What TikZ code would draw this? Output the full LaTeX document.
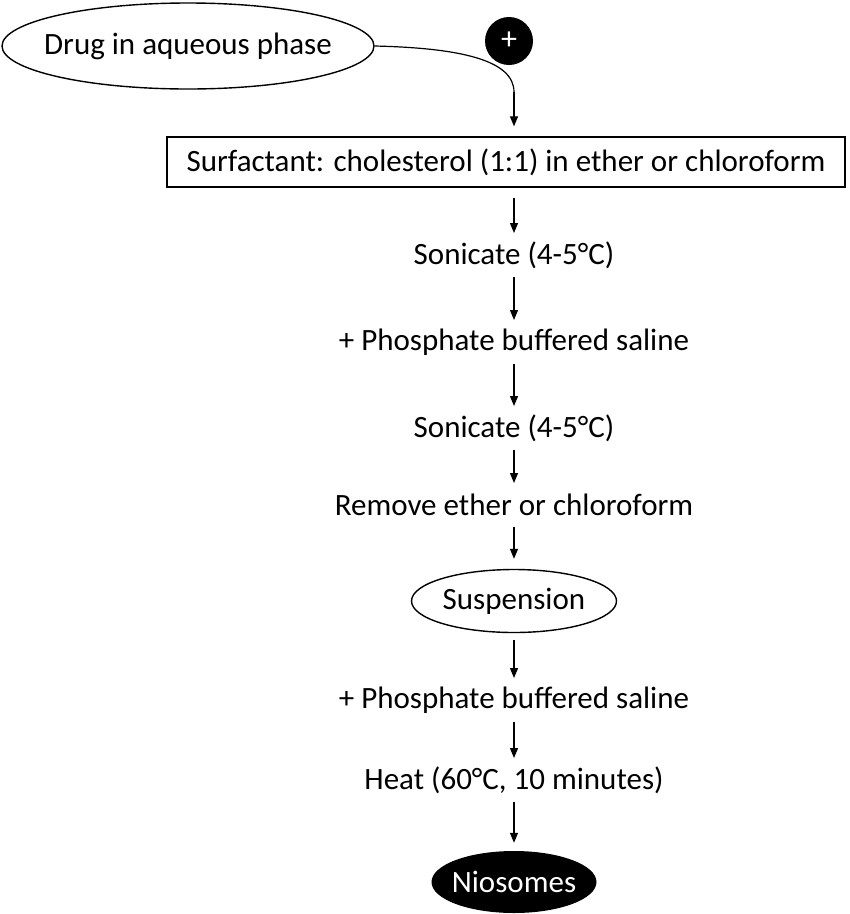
\documentclass[tikz,border=0pt]{standalone}
\usepackage{fontspec}
\setmainfont{Carlito}
\usetikzlibrary{shapes.geometric,arrows.meta}
\begin{document}
\begin{tikzpicture}[x=1pt,y=-1pt,
  txt/.style={font=\fontsize{31}{34}\selectfont, inner sep=0pt, outer sep=0pt, minimum height=44pt, text=black},
  oval/.style={ellipse, draw=black, line width=1.4pt, inner sep=0pt, font=\fontsize{31}{34}\selectfont},
  arr/.style={line width=1.2pt, -{Triangle[length=10pt,width=8pt]}}]
\useasboundingbox (0,0) rectangle (850,914);
\node[oval, minimum width=372pt, minimum height=86pt] (drug) at (188,46) {\makebox[0pt]{Drug in aqueous phase}};
\node[circle, fill=black, minimum size=48pt, inner sep=0pt, text=white, font=\fontsize{32}{34}\selectfont] (plus) at (509,41) {+};
\node[draw=black, line width=1.3pt, minimum width=678pt, minimum height=50pt, inner sep=0pt, font=\fontsize{31}{34}\selectfont] (box) at (506,162) {Surfactant: cholesterol (1:1) in ether or chloroform};
\coordinate (bend) at (514,92);
\node[txt] (s1) at (514,255) {Sonicate (4-5°C)};
\node[txt] (p1) at (514,342) {+ Phosphate buffered saline};
\node[txt] (s2) at (514,428) {Sonicate (4-5°C)};
\node[txt] (rm) at (514,505) {Remove ether or chloroform};
\node[oval, minimum width=205pt, minimum height=63pt] (susp) at (514,601) {\makebox[0pt]{Suspension}};
\node[txt] (p2) at (514,700) {+ Phosphate buffered saline};
\node[txt] (heat) at (514,780) {Heat (60°C, 10 minutes)};
\node[ellipse, fill=black, minimum width=165pt, minimum height=62pt, inner sep=0pt, text=white, font=\fontsize{31}{34}\selectfont] (nio) at (514,882) {\makebox[0pt]{Niosomes}};
\draw[line width=1.2pt] (drug.east) .. controls (460,48) and (514,60) .. (bend);
\draw[arr] (bend) -- ([yshift=10pt]box.north -| bend);
\draw[arr] ([yshift=-10pt]box.south -| s1) -- (s1.north);
\draw[arr] (s1.south) -- (p1.north);
\draw[arr] (p1.south) -- (s2.north);
\draw[arr] (s2.south) -- (rm.north);
\draw[arr] (rm.south) -- ([yshift=10pt]susp.north);
\draw[arr] ([yshift=-7pt]susp.south) -- (p2.north);
\draw[arr] (p2.south) -- (heat.north);
\draw[arr] (heat.south) -- ([yshift=8pt]nio.north);
\end{tikzpicture}
\end{document}
